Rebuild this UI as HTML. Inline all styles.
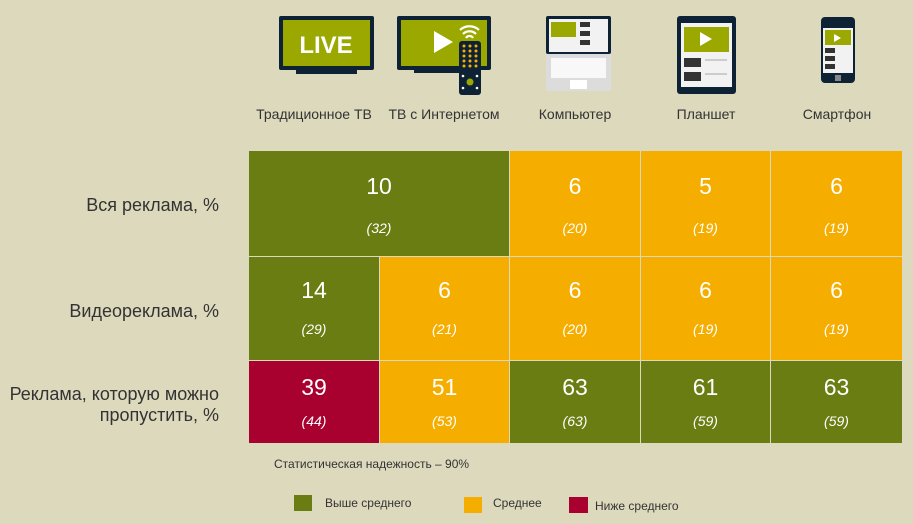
<!DOCTYPE html>
<html><head><meta charset="utf-8"><style>
body{margin:0;width:913px;height:524px;background:#DDD9BC;position:relative;overflow:hidden;font-family:"Liberation Sans",sans-serif;}
.a{position:absolute}
.c{position:absolute;color:#fff;text-align:center}
.c .n{position:absolute;left:0;right:0;font-size:23px}
.c .p{position:absolute;left:0;right:0;font-size:14px;font-style:italic}
.g{background:#6A7D12}.o{background:#F5AE00}.r{background:#A8002F}
.lab{position:absolute;right:694px;text-align:right;font-size:18px;color:#333;line-height:21px}
.dl{position:absolute;font-size:14px;color:#333;text-align:center;width:140px}
.lg{position:absolute;font-size:12px;color:#333}
</style></head><body>
<!-- icons -->
<svg class="a" style="left:0;top:0" width="913" height="100">
 <rect x="279" y="16" width="95" height="54" fill="#0E2236" rx="2"/>
 <rect x="283" y="20" width="87" height="46" fill="#9AA800"/>
 <rect x="296" y="70" width="61" height="4" fill="#0E2236"/>
 <text x="326" y="53" font-family="Liberation Sans" font-weight="bold" font-size="24" fill="#fff" text-anchor="middle">LIVE</text>
 <rect x="397" y="16" width="94" height="54" fill="#0E2236" rx="2"/>
 <rect x="401" y="20" width="86" height="46" fill="#9AA800"/>
 <rect x="414" y="70" width="50" height="3" fill="#0E2236"/>
 <polygon points="434,31 434,53 453,42" fill="#fff"/>
 <path d="M460 30 a14 14 0 0 1 19 0 M463 34 a9 9 0 0 1 13 0 M466 38 a4 4 0 0 1 7 0" stroke="#fff" stroke-width="2.2" fill="none"/>
 <rect x="459" y="41" width="22" height="54" rx="3" fill="#0E2236"/>
 <g fill="#F5AE00"><circle cx="464" cy="46" r="1.5"/><circle cx="470" cy="46" r="1.5"/><circle cx="476" cy="46" r="1.5"/><circle cx="464" cy="51" r="1.5"/><circle cx="470" cy="51" r="1.5"/><circle cx="476" cy="51" r="1.5"/><circle cx="464" cy="56" r="1.5"/><circle cx="470" cy="56" r="1.5"/><circle cx="476" cy="56" r="1.5"/><circle cx="464" cy="61" r="1.5"/><circle cx="470" cy="61" r="1.5"/><circle cx="476" cy="61" r="1.5"/><circle cx="464" cy="66" r="1.5"/><circle cx="470" cy="66" r="1.5"/><circle cx="476" cy="66" r="1.5"/></g>
 <circle cx="470" cy="82" r="3.5" fill="#9AA800"/>
 <g fill="#fff"><circle cx="463" cy="76" r="1.3"/><circle cx="477" cy="76" r="1.3"/><circle cx="463" cy="88" r="1.3"/><circle cx="477" cy="88" r="1.3"/></g>
 <rect x="546" y="16" width="65" height="38" fill="#0E2236" rx="2"/>
 <rect x="549" y="19" width="59" height="33" fill="#F2F2F2"/>
 <rect x="551" y="22" width="25" height="15" fill="#9AA800"/>
 <rect x="580" y="22" width="10" height="5" fill="#333"/><rect x="580" y="31" width="10" height="5" fill="#333"/><rect x="580" y="40" width="10" height="5" fill="#333"/>
 <rect x="546" y="54" width="65" height="37" fill="#DCDCDC" rx="2"/>
 <rect x="551" y="58" width="55" height="20" fill="#fff" opacity=".8"/>
 <rect x="570" y="80" width="17" height="9" fill="#fff"/>
 <rect x="677" y="16" width="59" height="78" fill="#0E2236" rx="3"/>
 <rect x="681" y="23" width="51" height="64" fill="#F2F2F2"/>
 <rect x="684" y="27" width="45" height="25" fill="#9AA800"/>
 <polygon points="700,32 700,46 712,39" fill="#fff"/>
 <rect x="684" y="58" width="17" height="9" fill="#333"/><rect x="684" y="72" width="17" height="9" fill="#333"/>
 <rect x="705" y="59" width="22" height="2" fill="#ccc"/><rect x="705" y="73" width="22" height="2" fill="#ccc"/>
 <rect x="821" y="17" width="34" height="66" fill="#0E2236" rx="4"/>
 <rect x="823" y="28" width="30" height="45" fill="#F2F2F2"/>
 <rect x="825" y="30" width="26" height="15" fill="#9AA800"/>
 <polygon points="834,34 834,42 841,38" fill="#fff"/>
 <rect x="825" y="48" width="10" height="5" fill="#333"/><rect x="825" y="56" width="10" height="5" fill="#333"/><rect x="825" y="64" width="10" height="5" fill="#333"/>
 <rect x="835" y="75" width="6" height="6" fill="#888"/>
</svg>
<div class="dl" style="left:244px;top:106px">Традиционное ТВ</div>
<div class="dl" style="left:374px;top:106px">ТВ с Интернетом</div>
<div class="dl" style="left:505px;top:106px">Компьютер</div>
<div class="dl" style="left:636px;top:106px">Планшет</div>
<div class="dl" style="left:767px;top:106px">Смартфон</div>

<div class="lab" style="top:195px">Вся реклама, %</div>
<div class="lab" style="top:301px">Видеореклама, %</div>
<div class="lab" style="top:384px">Реклама, которую можно<br>пропустить, %</div>

<!-- grid -->
<div class="c g" style="left:249px;top:151px;width:260px;height:105px"><div class="n" style="top:22px">10</div><div class="p" style="top:69px">(32)</div></div>
<div class="c o" style="left:510px;top:151px;width:130px;height:105px"><div class="n" style="top:22px">6</div><div class="p" style="top:69px">(20)</div></div>
<div class="c o" style="left:641px;top:151px;width:129px;height:105px"><div class="n" style="top:22px">5</div><div class="p" style="top:69px">(19)</div></div>
<div class="c o" style="left:771px;top:151px;width:131px;height:105px"><div class="n" style="top:22px">6</div><div class="p" style="top:69px">(19)</div></div>

<div class="c g" style="left:249px;top:257px;width:130px;height:103px"><div class="n" style="top:20px">14</div><div class="p" style="top:64px">(29)</div></div>
<div class="c o" style="left:380px;top:257px;width:129px;height:103px"><div class="n" style="top:20px">6</div><div class="p" style="top:64px">(21)</div></div>
<div class="c o" style="left:510px;top:257px;width:130px;height:103px"><div class="n" style="top:20px">6</div><div class="p" style="top:64px">(20)</div></div>
<div class="c o" style="left:641px;top:257px;width:129px;height:103px"><div class="n" style="top:20px">6</div><div class="p" style="top:64px">(19)</div></div>
<div class="c o" style="left:771px;top:257px;width:131px;height:103px"><div class="n" style="top:20px">6</div><div class="p" style="top:64px">(19)</div></div>

<div class="c r" style="left:249px;top:361px;width:130px;height:82px"><div class="n" style="top:13px">39</div><div class="p" style="top:52px">(44)</div></div>
<div class="c o" style="left:380px;top:361px;width:129px;height:82px"><div class="n" style="top:13px">51</div><div class="p" style="top:52px">(53)</div></div>
<div class="c g" style="left:510px;top:361px;width:130px;height:82px"><div class="n" style="top:13px">63</div><div class="p" style="top:52px">(63)</div></div>
<div class="c g" style="left:641px;top:361px;width:129px;height:82px"><div class="n" style="top:13px">61</div><div class="p" style="top:52px">(59)</div></div>
<div class="c g" style="left:771px;top:361px;width:131px;height:82px"><div class="n" style="top:13px">63</div><div class="p" style="top:52px">(59)</div></div>

<div class="lg" style="left:274px;top:457px">Статистическая надежность – 90%</div>
<div class="a g" style="left:294px;top:495px;width:18px;height:16px"></div>
<div class="lg" style="left:325px;top:496px">Выше среднего</div>
<div class="a o" style="left:464px;top:497px;width:18px;height:16px"></div>
<div class="lg" style="left:493px;top:496px">Среднее</div>
<div class="a r" style="left:569px;top:497px;width:19px;height:16px"></div>
<div class="lg" style="left:595px;top:499px">Ниже среднего</div>
</body></html>
